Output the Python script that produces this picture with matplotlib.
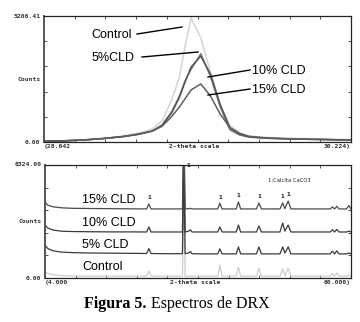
import matplotlib
matplotlib.use('Agg')
import matplotlib.pyplot as plt
from matplotlib.lines import Line2D

# ---- top panel: zoom on main calcite reflection ----
top_angle = [28.642, 28.75, 28.85, 28.95, 29.05, 29.13, 29.20, 29.25, 29.30, 29.34, 29.37,
             29.40, 29.45, 29.50, 29.55, 29.60, 29.65, 29.70, 29.80, 29.95, 30.10, 30.224]
top_control = [40, 60, 80, 145, 250, 370, 540, 870, 1735, 2690, 4000,
               5124, 4300, 2890, 1530, 700, 370, 250, 185, 145, 125, 100]
top_5cld = [30, 50, 90, 150, 230, 330, 460, 700, 1250, 1900, 2550,
            3000, 3650, 2700, 1450, 500, 290, 200, 150, 120, 100, 80]
top_10cld = [30, 50, 85, 145, 225, 320, 450, 680, 1200, 1850, 2500,
             3100, 3550, 2800, 1550, 580, 320, 210, 155, 120, 100, 80]
top_15cld = [30, 50, 85, 140, 220, 320, 450, 650, 1050, 1450, 1800,
             2150, 2400, 1900, 1150, 600, 360, 230, 160, 120, 100, 80]
top_ymax = 5206.41

# ---- bottom panel: full pattern, traces stacked ----
bot_angle = [4.0, 4.5, 5.5, 7.0, 9.0, 12.0, 16.0, 20.0, 22.6, 23.0, 23.4, 26.0,
             29.15, 29.4, 29.65, 30.3, 30.6, 30.9, 33.0, 35.6, 36.0, 36.4,
             39.0, 39.4, 39.8, 42.7, 43.15, 43.6, 47.0, 47.5, 47.9, 48.5, 49.0,
             52.0, 56.2, 56.6, 57.0, 57.4, 57.8, 59.2, 59.6, 60.0]
bot_control = [336, 260, 180, 130, 110, 100, 100, 100, 100, 400, 100, 100,
               100, 5200, 100, 100, 110, 100, 100, 100, 700, 100,
               100, 600, 100, 100, 550, 100, 100, 500, 110, 550, 100,
               100, 100, 250, 100, 280, 100, 100, 150, 100]
bot_5cld = [1850, 1650, 1520, 1450, 1420, 1400, 1390, 1380, 1370, 1650, 1370, 1360,
            1360, 6400, 1360, 1400, 1480, 1360, 1350, 1350, 1630, 1350,
            1350, 1740, 1350, 1350, 1740, 1350, 1350, 1740, 1400, 1740, 1350,
            1350, 1350, 1500, 1350, 1520, 1350, 1350, 1400, 1350]
bot_10cld = [2970, 2800, 2680, 2620, 2600, 2590, 2580, 2580, 2575, 2855, 2575, 2575,
             2575, 7600, 2575, 2620, 2700, 2575, 2575, 2575, 2855, 2575,
             2575, 2965, 2575, 2575, 2910, 2575, 2575, 3075, 2620, 2965, 2575,
             2575, 2575, 2700, 2575, 2720, 2575, 2575, 2620, 2575]
bot_15cld = [4250, 4080, 3980, 3930, 3900, 3890, 3880, 3870, 3865, 4145, 3865, 3865,
             3865, 8900, 3865, 3880, 3900, 3865, 3865, 3865, 4180, 3865,
             3865, 4260, 3865, 3865, 4200, 3865, 3865, 4200, 3880, 4310, 3865,
             3865, 3865, 3980, 3865, 4010, 3865, 3865, 4060, 3865]
bot_ymax = 6324.00
calcite_peaks = [23.0, 29.4, 36.0, 39.4, 43.15, 47.5, 48.5]

small = dict(family='DejaVu Sans Mono', fontweight='bold', fontsize=4.6, color='#333333')
lab = dict(family='Liberation Sans', fontsize=9, color='black')

fig = plt.figure(figsize=(3.6, 3.22), dpi=100)
W, H = 360.0, 322.0


def px(x, y):
    return x / W, 1 - y / H


def frame(ax, xmin, xmax, ymax, ymax_txt, xmin_txt, xmax_txt):
    ax.set_xlim(xmin, xmax)
    ax.set_ylim(0, ymax)
    ax.set_xticks([xmin + (xmax - xmin) * i / 10 for i in range(11)])
    ax.set_yticks([ymax * i / 5 for i in range(6)])
    ax.tick_params(direction='in', length=2, width=0.6, top=True, right=True,
                   labelbottom=False, labelleft=False, colors='#333333')
    for s in ax.spines.values():
        s.set_linewidth(0.9)
        s.set_color('#222222')
    ax.spines['left'].set_linewidth(1.4)
    ax.spines['left'].set_color('#555555')
    ax.text(-0.012, 1.0, ymax_txt, transform=ax.transAxes, ha='right', va='center', **small)
    ax.text(-0.012, 0.5, 'Counts', transform=ax.transAxes, ha='right', va='center', **small)
    ax.text(-0.012, 0.0, '0.00', transform=ax.transAxes, ha='right', va='center', **small)
    ax.text(0.0, -0.015, xmin_txt, transform=ax.transAxes, ha='left', va='top', **small)
    ax.text(0.49, -0.015, '2-theta scale', transform=ax.transAxes, ha='center', va='top', **small)
    ax.text(1.0, -0.015, xmax_txt, transform=ax.transAxes, ha='right', va='top', **small)


# top panel
ax1 = fig.add_axes([44 / W, 1 - 142 / H, 307 / W, 126 / H])
ax1.plot(top_angle, top_control, color='#d4d4d4', lw=1.1)
ax1.plot(top_angle, top_5cld, color='#7a7a7a', lw=1.1)
ax1.plot(top_angle, top_10cld, color='#555555', lw=1.1)
ax1.plot(top_angle, top_15cld, color='#5e5e5e', lw=1.1)
frame(ax1, 28.642, 30.224, top_ymax, '5206.41', '(28.642', '30.224)')

# callout labels, top panel
for txt, tx, ty, ha, seg in [('Control', 112, 35, 'center', (137, 34, 182, 27)),
                             ('5%CLD', 113, 58, 'center', (142, 57, 198, 52)),
                             ('10% CLD', 252, 71, 'left', (250, 70, 208, 77)),
                             ('15% CLD', 252, 90, 'left', (250, 89, 208, 95))]:
    x, y = px(tx, ty)
    fig.text(x, y, txt, ha=ha, va='center', **lab)
    x0, y0 = px(seg[0], seg[1])
    x1, y1 = px(seg[2], seg[3])
    fig.add_artist(Line2D([x0, x1], [y0, y1], color='black', lw=1.0))

# bottom panel
ax2 = fig.add_axes([45 / W, 1 - 278 / H, 306 / W, 113 / H])
ax2.plot(bot_angle, bot_control, color='#cccccc', lw=0.9)
ax2.plot(bot_angle, bot_5cld, color='#3a3a3a', lw=0.9)
ax2.plot(bot_angle, bot_10cld, color='#3a3a3a', lw=0.9)
ax2.plot(bot_angle, bot_15cld, color='#4a4a4a', lw=0.9)
frame(ax2, 4.0, 60.0, bot_ymax, '6324.00', '(4.000', '60.000)')

for a in calcite_peaks:
    v = bot_15cld[bot_angle.index(a)]
    yl = min(v + 200, bot_ymax - 150)
    xl = a + 0.8 if a == 29.4 else a
    ax2.text(xl, yl, '1', ha='center', va='bottom', fontsize=4, fontweight='bold',
             family='DejaVu Sans', color='#222222')
ax2.text(0.80, 0.86, '1:Calcita CaCO3', transform=ax2.transAxes, ha='center', va='center',
         fontsize=3.8, family='DejaVu Sans', color='#222222')

for txt, ty in [('15% CLD', 200), ('10% CLD', 223), ('5% CLD', 245), ('Control', 267)]:
    x, y = px(82, ty)
    fig.text(x, y, txt, ha='left', va='center', **lab)

# caption
x, y = px(147, 308)
fig.text(x, y, 'Figura 5.', ha='right', va='baseline', family='Liberation Serif',
         fontweight='bold', fontsize=11.5)
x, y = px(151, 308)
fig.text(x, y, 'Espectros de DRX', ha='left', va='baseline', family='Liberation Serif',
         fontsize=11.5)

fig.savefig('out.png', dpi=100)
plt.close(fig)
